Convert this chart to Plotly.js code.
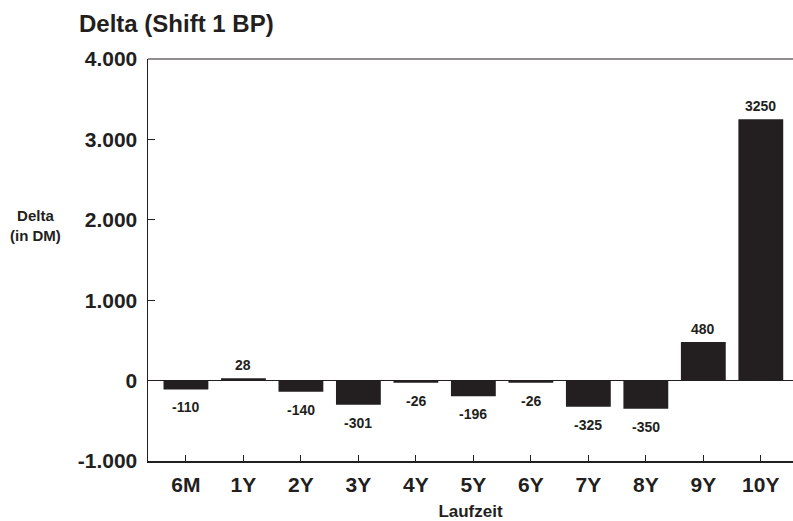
<!DOCTYPE html>
<html><head><meta charset="utf-8">
<script src="https://cdn.plot.ly/plotly-3.0.1.min.js"></script>
<style>html,body{margin:0;padding:0;background:#fff;}#chart{width:793px;height:521px;}</style>
</head><body><div id="chart"></div>
<script>
const categories = ["6M","1Y","2Y","3Y","4Y","5Y","6Y","7Y","8Y","9Y","10Y"];
const deltaValues = [-110, 28, -140, -301, -26, -196, -26, -325, -350, 480, 3250];
const yTickVals = [-1000, 0, 1000, 2000, 3000, 4000];
const yTickText = ["-1.000", "0", "1.000", "2.000", "3.000", "4.000"];

const FONT = "Liberation Sans, Arial, Helvetica, sans-serif";
const INK = "#231f20";

const annotations = categories.map((c, i) => {
  const v = deltaValues[i];
  return {
    x: c, y: v, xref: "x", yref: "y", text: String(v), showarrow: false,
    yanchor: v >= 0 ? "bottom" : "top", yshift: v >= 0 ? 3 : -8,
    font: {family: FONT, size: 14, color: INK, weight: "bold"}
  };
});
annotations.push({
  xref: "paper", yref: "paper", x: -0.175, y: 0.585, xanchor: "center", yanchor: "middle",
  text: "Delta<br>(in DM)", showarrow: false, align: "center",
  font: {family: FONT, size: 15, color: INK, weight: "bold"}
});

const trace = {
  type: "bar", x: categories, y: deltaValues,
  marker: {color: INK, line: {width: 0}},
  hoverinfo: "x+y"
};

const layout = {
  width: 793, height: 521,
  margin: {l: 148, r: 0, t: 59, b: 60},
  paper_bgcolor: "#fff", plot_bgcolor: "#fff",
  showlegend: false, bargap: 0.22,
  title: {text: "<b>Delta (Shift 1 BP)</b>", x: 79/793, xanchor: "left", xref: "container",
          y: 1 - 24/521, yanchor: "middle", yref: "container",
          font: {family: FONT, size: 24, color: INK}},
  xaxis: {
    range: [-0.66, 10.56], showgrid: false, zeroline: false,
    showline: true, linecolor: INK, linewidth: 1.5,
    ticks: "inside", ticklen: 6, tickwidth: 1, tickcolor: INK,
    ticklabelstandoff: 4,
    tickfont: {family: FONT, size: 21, color: INK, weight: "bold"},
    title: {text: "Laufzeit", standoff: 10, font: {family: FONT, size: 17, color: INK, weight: "bold"}}
  },
  yaxis: {
    range: [-1000, 4000], showgrid: false,
    zeroline: true, zerolinecolor: INK, zerolinewidth: 1,
    showline: true, linecolor: INK, linewidth: 1.5,
    ticks: "inside", ticklen: 7, tickwidth: 1, tickcolor: INK,
    tickvals: yTickVals, ticktext: yTickText,
    ticklabelstandoff: 5,
    tickfont: {family: FONT, size: 21, color: INK, weight: "bold"}
  },
  shapes: [{type: "line", xref: "paper", yref: "paper", x0: 0, x1: 1, y0: 1, y1: 1,
            line: {color: INK, width: 1.2}}],
  annotations: annotations
};

Plotly.newPlot("chart", [trace], layout, {displayModeBar: false, staticPlot: true});
</script></body></html>
